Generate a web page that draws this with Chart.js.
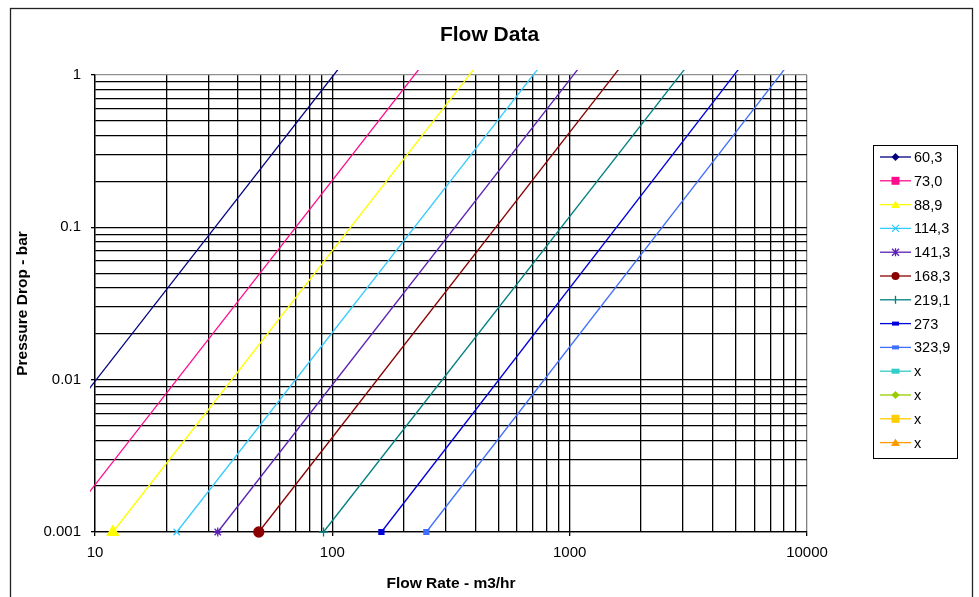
<!DOCTYPE html>
<html lang="en">
<head>
<meta charset="UTF-8">
<title>Flow Data</title>
<script src="https://cdn.jsdelivr.net/npm/chart.js"></script>
<style>
  html, body { margin: 0; padding: 0; background: #fff; }
  #wrap { width: 979px; height: 597px; }
</style>
</head>
<body>
<div id="wrap"><canvas id="flowChart"></canvas></div>
<script>
// pipe OD (mm) for each curve
const pipeSizes = ['60,3', '73,0', '88,9', '114,3', '141,3', '168,3', '219,1', '273', '323,9'];
// unused series that still show in the legend
const emptySeries = ['x', 'x', 'x', 'x'];
// flow (m3/hr) where each curve starts, at 0.001 bar
const flowAtStart = [3.2, 7.0, 11.9, 22.1, 32.9, 49.0, 91.8, 161, 249];
// flow (m3/hr) where each curve ends, at 1.2 bar (just above the chart top)
const flowAtEnd = [111, 243, 414, 769, 1136, 1688, 3198, 5395, 8431];
const pressureStart = 0.001;
const pressureEnd = 1.2;

const xTickLabels = [10, 100, 1000, 10000];
const yTickLabels = [0.001, 0.01, 0.1, 1];
const minorSteps = [2, 3, 4, 5, 6, 7, 8, 9];

const lineColors = ['#000080', '#FF0A8C', '#FFFF00', '#33CCFF', '#5B1FB5', '#8B0000', '#008080', '#0000DD', '#3F6FFF'];
const markerStyles = ['rectRot', 'rect', 'triangle', 'crossRot', 'star', 'circle', 'cross', 'rect', 'rect'];
const markerSizes = [4.5, 4.5, 6.5, 4.5, 4.5, 5, 4.5, 3.5, 3.5];
const emptyColors = ['#33CCCC', '#99CC00', '#FFCC00', '#FF9900'];
const emptyMarkers = ['bar', 'rectRot', 'rect', 'triangle'];

const FONT = "'Liberation Sans', Arial, sans-serif";

function gridValues(decades) {
    var out = [];
    decades.forEach(function(d, i) {
        out.push(d);
        if (i < decades.length - 1) {
            minorSteps.forEach(function(m) { out.push(d * m); });
        }
    });
    return out;
}

function isDecade(list, value) {
    return list.some(function(v) { return Math.abs(v - value) / v < 1e-6; });
}

var datasets = pipeSizes.map(function(name, i) {
    return {
        label: name,
        data: [{x: flowAtStart[i], y: pressureStart}, {x: flowAtEnd[i], y: pressureEnd}],
        borderColor: lineColors[i],
        backgroundColor: lineColors[i],
        borderWidth: 1.3,
        pointStyle: markerStyles[i],
        pointRadius: markerSizes[i],
        pointBorderWidth: 1.3,
        pointHoverRadius: markerSizes[i],
        legendMarker: markerStyles[i] === 'rect' && i > 6 ? 'smallbar' : markerStyles[i],
        clip: {left: 5, top: 5, right: 5, bottom: 10}
    };
});
emptySeries.forEach(function(name, i) {
    datasets.push({
        label: name,
        data: [],
        borderColor: emptyColors[i],
        backgroundColor: emptyColors[i],
        borderWidth: 1.3,
        legendMarker: emptyMarkers[i]
    });
});

// draw a legend marker the way the spreadsheet does
function drawMarker(ctx, style, x, y, color) {
    ctx.save();
    ctx.fillStyle = color;
    ctx.strokeStyle = color;
    ctx.lineWidth = 1.3;
    ctx.beginPath();
    switch (style) {
        case 'rectRot':
            ctx.moveTo(x, y - 4); ctx.lineTo(x + 4, y); ctx.lineTo(x, y + 4); ctx.lineTo(x - 4, y);
            ctx.closePath(); ctx.fill(); break;
        case 'rect':
            ctx.fillRect(x - 4, y - 4, 8, 8); break;
        case 'bar':
            ctx.fillRect(x - 4, y - 2.5, 8, 5); break;
        case 'smallbar':
            ctx.fillRect(x - 3.5, y - 2, 7, 4); break;
        case 'triangle':
            ctx.moveTo(x, y - 4); ctx.lineTo(x + 4.5, y + 3.5); ctx.lineTo(x - 4.5, y + 3.5);
            ctx.closePath(); ctx.fill(); break;
        case 'circle':
            ctx.arc(x, y, 4, 0, Math.PI * 2); ctx.fill(); break;
        case 'crossRot':
            ctx.moveTo(x - 3.5, y - 3.5); ctx.lineTo(x + 3.5, y + 3.5);
            ctx.moveTo(x + 3.5, y - 3.5); ctx.lineTo(x - 3.5, y + 3.5); ctx.stroke(); break;
        case 'star':
            ctx.moveTo(x - 3.5, y - 3.5); ctx.lineTo(x + 3.5, y + 3.5);
            ctx.moveTo(x + 3.5, y - 3.5); ctx.lineTo(x - 3.5, y + 3.5);
            ctx.moveTo(x, y - 4); ctx.lineTo(x, y + 4); ctx.stroke(); break;
        case 'cross':
            ctx.moveTo(x, y - 4); ctx.lineTo(x, y + 4); ctx.stroke(); break;
    }
    ctx.restore();
}

// outer frame + white background
const framePlugin = {
    id: 'frame',
    beforeDraw: function(chart) {
        var ctx = chart.ctx;
        ctx.save();
        ctx.fillStyle = '#fff';
        ctx.fillRect(0, 0, chart.width, chart.height);
        ctx.strokeStyle = '#222';
        ctx.lineWidth = 1.3;
        ctx.strokeRect(10.5, 8.5, chart.width - 17, chart.height + 10);
        ctx.restore();
    }
};

// boxed legend with line + marker samples
const boxLegend = {
    id: 'boxLegend',
    afterDraw: function(chart) {
        var ctx = chart.ctx, area = chart.chartArea;
        var sets = chart.data.datasets;
        var rowH = 23.8, boxW = 84, boxH = 313;
        var left = area.right + 66;
        var top = (area.top + area.bottom) / 2 - boxH / 2 - 2;
        ctx.save();
        ctx.strokeStyle = '#000';
        ctx.lineWidth = 1;
        ctx.strokeRect(Math.round(left) + 0.5, Math.round(top) + 0.5, boxW, boxH);
        ctx.font = '14.5px ' + FONT;
        ctx.textBaseline = 'middle';
        ctx.textAlign = 'left';
        sets.forEach(function(ds, i) {
            var y = top + 12 + i * rowH;
            ctx.strokeStyle = ds.borderColor;
            ctx.lineWidth = 1.3;
            ctx.beginPath();
            ctx.moveTo(left + 7, y);
            ctx.lineTo(left + 38, y);
            ctx.stroke();
            drawMarker(ctx, ds.legendMarker, left + 22.5, y, ds.borderColor);
            ctx.fillStyle = '#000';
            ctx.fillText(ds.label, left + 41, y + 1);
        });
        ctx.restore();
    }
};

new Chart(document.getElementById('flowChart'), {
    type: 'line',
    data: { datasets: datasets },
    plugins: [framePlugin, boxLegend],
    options: {
        responsive: true,
        maintainAspectRatio: false,
        animation: false,
        layout: { padding: { top: 10, left: 10, right: 10, bottom: 0 } },
        plugins: {
            legend: { display: false },
            tooltip: { enabled: false },
            title: {
                display: true,
                text: 'Flow Data',
                color: '#000',
                font: { family: FONT, size: 21, weight: 'bold' },
                padding: { top: 12.9, bottom: 26.9 }
            }
        },
        scales: {
            x: {
                type: 'logarithmic',
                min: 10,
                max: 10000,
                afterBuildTicks: function(scale) {
                    scale.ticks = gridValues(xTickLabels).map(function(v) { return {value: v}; });
                },
                afterFit: function(scale) { scale.height = 65; },
                ticks: {
                    autoSkip: false,
                    maxRotation: 0,
                    padding: 7.5,
                    color: '#000',
                    font: { family: FONT, size: 15 },
                    callback: function(value) {
                        return isDecade(xTickLabels, value) ? String(Math.round(value)) : '';
                    }
                },
                grid: {
                    color: function(c) { return c.tick && c.tick.value >= 10000 ? '#808080' : '#000'; },
                    lineWidth: 1.3,
                    tickLength: 4,
                    tickColor: function(c) {
                        return c.tick && isDecade(xTickLabels, c.tick.value) ? '#000' : 'rgba(0,0,0,0)';
                    }
                },
                border: { color: '#000', width: 1.3 },
                title: {
                    display: true,
                    text: 'Flow Rate - m3/hr',
                    color: '#000',
                    font: { family: FONT, size: 15.5, weight: 'bold' },
                    padding: { top: 0, bottom: 3.7 }
                }
            },
            y: {
                type: 'logarithmic',
                min: 0.001,
                max: 1,
                afterBuildTicks: function(scale) {
                    scale.ticks = gridValues(yTickLabels).map(function(v) { return {value: v}; });
                },
                afterFit: function(scale) { scale.width = 85; },
                ticks: {
                    autoSkip: false,
                    padding: 10,
                    color: '#000',
                    font: { family: FONT, size: 15 },
                    callback: function(value) {
                        var hit = yTickLabels.find(function(v) { return Math.abs(v - value) / v < 1e-6; });
                        return hit !== undefined ? String(hit) : '';
                    }
                },
                grid: {
                    color: function(c) { return c.tick && c.tick.value >= 0.999 ? '#909090' : '#000'; },
                    lineWidth: 1.3,
                    tickLength: 4,
                    tickColor: function(c) {
                        return c.tick && isDecade(yTickLabels, c.tick.value) ? '#000' : 'rgba(0,0,0,0)';
                    }
                },
                border: { color: '#000', width: 1.3 },
                title: {
                    display: true,
                    text: 'Pressure Drop - bar',
                    color: '#000',
                    font: { family: FONT, size: 15.5, weight: 'bold' },
                    padding: { top: 3.7, bottom: 0 }
                }
            },
            // reserves the empty strip on the right where the legend box sits
            legendSpace: {
                type: 'linear',
                position: 'right',
                display: true,
                grid: { display: false },
                ticks: { display: false },
                border: { display: false },
                afterFit: function(scale) { scale.width = 162; }
            }
        }
    }
});
</script>
</body>
</html>
